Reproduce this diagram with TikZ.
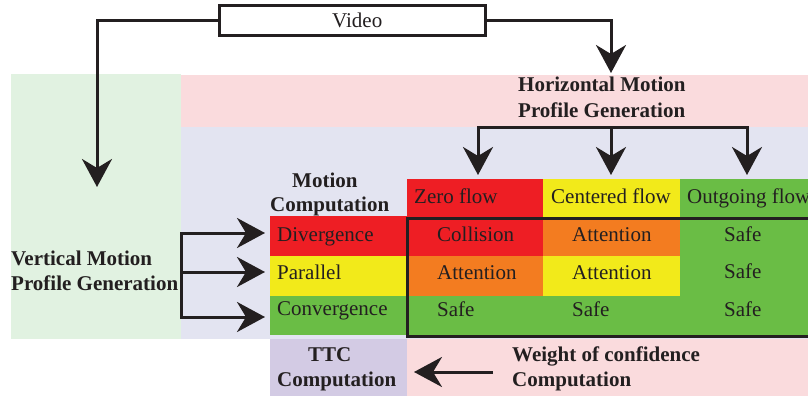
\documentclass[tikz,border=0pt]{standalone}
\usepackage{fontspec}
\setmainfont{Liberation Serif}
\usetikzlibrary{arrows.meta}
\definecolor{ink}{RGB}{35,31,32}
\definecolor{cred}{RGB}{238,30,36}
\definecolor{cyellow}{RGB}{242,234,26}
\definecolor{cgreen}{RGB}{106,189,69}
\definecolor{corange}{RGB}{243,124,32}
\definecolor{bgpink}{RGB}{250,219,221}
\definecolor{bglav}{RGB}{227,228,241}
\definecolor{bggreen}{RGB}{225,242,225}
\definecolor{bgpurple}{RGB}{211,203,228}
\begin{document}
\begin{tikzpicture}[x=1pt,y=-1pt,
  region/.style={rectangle,draw=none,inner sep=0pt,outer sep=0pt,anchor=north west},
  lbl/.style={font=\fontsize{21}{24}\selectfont,text=ink,inner sep=0pt,anchor=base west},
  blbl/.style={font=\fontsize{21}{24}\selectfont\bfseries,text=ink,inner sep=0pt,anchor=base west},
  conn/.style={line width=3pt,draw=ink},
  arr/.style={conn,-{Stealth[length=28pt,width=30pt,inset=9pt]}},
  bar/.style={conn,line cap=rect}]
\useasboundingbox (0,0) rectangle (808,396);
% background regions
\node[region,fill=bggreen,minimum width=170pt,minimum height=265pt] (vmp) at (11,74) {};
\node[region,fill=bgpink,minimum width=627pt,minimum height=52pt] (hmp) at (181,75) {};
\node[region,fill=bglav,minimum width=627pt,minimum height=212pt] (work) at (181,127) {};
\node[region,fill=bgpink,minimum width=401pt,minimum height=57pt] (woc) at (407,339) {};
\node[region,fill=bgpurple,minimum width=137pt,minimum height=57pt] (ttc) at (270,339) {};
% header row
\node[region,fill=cred,minimum width=136pt,minimum height=39pt] (h1) at (407,179) {};
\node[region,fill=cyellow,minimum width=137pt,minimum height=39pt] (h2) at (543,179) {};
\node[region,fill=cgreen,minimum width=128pt,minimum height=39pt] (h3) at (680,179) {};
% left column
\node[region,fill=cred,minimum width=137pt,minimum height=40pt] (r1) at (270,216) {};
\node[region,fill=cyellow,minimum width=137pt,minimum height=40pt] (r2) at (270,256) {};
\node[region,fill=cgreen,minimum width=137pt,minimum height=39pt] (r3) at (270,296) {};
% matrix
\node[region,fill=cred,minimum width=136pt,minimum height=38pt] (m11) at (407,218) {};
\node[region,fill=corange,minimum width=136pt,minimum height=40pt] (m21) at (407,256) {};
\node[region,fill=cgreen,minimum width=136pt,minimum height=40pt] (m31) at (407,296) {};
\node[region,fill=corange,minimum width=137pt,minimum height=38pt] (m12) at (543,218) {};
\node[region,fill=cyellow,minimum width=137pt,minimum height=40pt] (m22) at (543,256) {};
\node[region,fill=cgreen,minimum width=137pt,minimum height=40pt] (m32) at (543,296) {};
\node[region,fill=cgreen,minimum width=128pt,minimum height=118pt] (m3) at (680,218) {};
\draw[conn] (815,218) -- (407,218) -- (407,336) -- (815,336);
% video box
\node[rectangle,draw=ink,line width=3pt,fill=white,minimum width=266pt,minimum height=30pt,inner sep=0pt] (video) at (352.5,20.5) {};
\node[lbl] (videot) at (332,28) {Video};
% texts
\node[blbl] (hmpt1) at (518,92) {Horizontal Motion};
\node[blbl] (hmpt2) at (518,117) {Profile Generation};
\node[blbl] (vmpt1) at (11,265) {Vertical Motion};
\node[blbl] (vmpt2) at (11,290) {Profile Generation};
\node[blbl] (mct1) at (292,187) {Motion};
\node[blbl] (mct2) at (270,211) {Computation};
\node[blbl] (ttct1) at (308,361) {TTC};
\node[blbl] (ttct2) at (277,386) {Computation};
\node[blbl] (woct1) at (512,361) {Weight of confidence};
\node[blbl] (woct2) at (512,386) {Computation};
\node[lbl] at (414,203) {Zero flow};
\node[lbl] at (551,203) {Centered flow};
\node[lbl] at (687,203) {Outgoing flow};
\node[lbl] at (277,241) {Divergence};
\node[lbl] at (277,279) {Parallel};
\node[lbl] at (277,315) {Convergence};
\node[lbl] at (437,241) {Collision};
\node[lbl] at (437,279) {Attention};
\node[lbl] at (437,316) {Safe};
\node[lbl] at (572,241) {Attention};
\node[lbl] at (572,279) {Attention};
\node[lbl] at (572,316) {Safe};
\node[lbl] at (724,241) {Safe};
\node[lbl] at (724,278) {Safe};
\node[lbl] at (724,316) {Safe};
% connectors
\coordinate (vtip) at (97,187);
\coordinate (htip) at (611,73);
\draw[arr] (video.west) -| (vtip);
\draw[arr] (video.east) -| (htip);
\coordinate (hb1) at (478,127);
\coordinate (hb2) at (611,127);
\coordinate (hb3) at (747,127);
\coordinate (ht1) at (478,175);
\coordinate (ht2) at (611,175);
\coordinate (ht3) at (747,175);
\draw[bar] (hb1) -- (hb3);
\draw[arr] (hb1) -- (ht1);
\draw[arr] (hb2) -- (ht2);
\draw[arr] (hb3) -- (ht3);
\coordinate (vb1) at (181,233);
\coordinate (vb2) at (181,272);
\coordinate (vb3) at (181,317);
\coordinate (vt1) at (265,233);
\coordinate (vt2) at (265,272);
\coordinate (vt3) at (265,317);
\draw[bar] (vb1) -- (vb3);
\draw[arr] (vb1) -- (vt1);
\draw[arr] (vb2) -- (vt2);
\draw[arr] (vb3) -- (vt3);
\coordinate (wtail) at (493,372);
\coordinate (wtip) at (414,372);
\draw[arr] (wtail) -- (wtip);
\end{tikzpicture}
\end{document}
